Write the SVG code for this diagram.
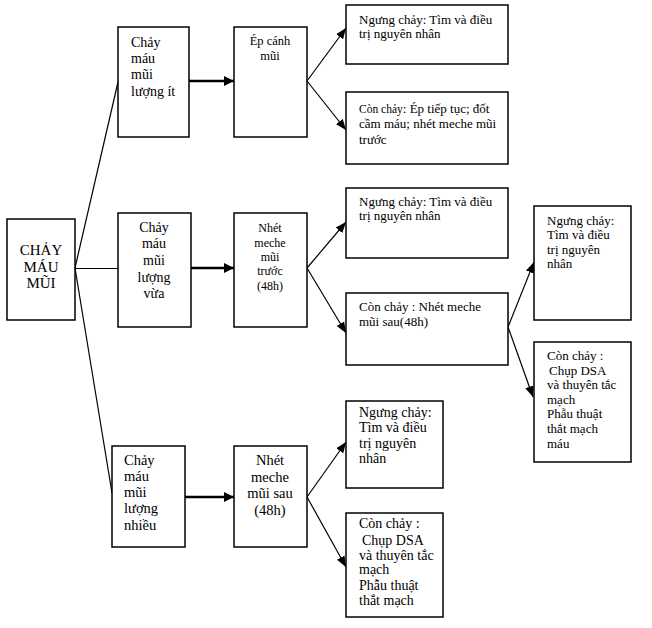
<svg xmlns="http://www.w3.org/2000/svg" width="652" height="628" viewBox="0 0 652 628" font-family="'Liberation Serif', 'DejaVu Serif', serif">
<style>
rect.b{fill:#fff;stroke:#000;stroke-width:1.5}
text{font-family:'Liberation Serif','DejaVu Serif',serif;fill:#000}
.f12{font-size:12px}
.f125{font-size:12.5px}
.f13{font-size:13px}
.f14{font-size:14px}
.f145{font-size:14.5px}
.f15{font-size:15px}
.sm{font-size:11.5px}
.c{text-anchor:middle}
.thick{stroke:#000;stroke-width:2.5;fill:none}
.thin{stroke:#000;stroke-width:1.2;fill:none}
</style>
<defs>
<marker id="ah" viewBox="0 0 10 10" refX="10" refY="5" markerWidth="4" markerHeight="4" orient="auto" markerUnits="strokeWidth"><path d="M0,0 L10,5 L0,10 z" fill="#000"/></marker>
<marker id="ahs" viewBox="0 0 10 10" refX="10" refY="5" markerWidth="9" markerHeight="9" orient="auto" markerUnits="strokeWidth"><path d="M0,1 L10,5 L0,9 z" fill="#000"/></marker>
</defs>
<rect width="652" height="628" fill="#fff"/>
<g id="connectors">
<line class="thin" x1="75" y1="268" x2="118" y2="82"/>
<line stroke="#000" stroke-width="1.2" x1="75" y1="268.5" x2="118" y2="268.5"/>
<line class="thin" x1="75" y1="268" x2="112" y2="493"/>
<line class="thick" x1="189" y1="81" x2="234" y2="81" marker-end="url(#ah)"/>
<line class="thick" x1="191" y1="268" x2="234" y2="268" marker-end="url(#ah)"/>
<line class="thick" x1="185" y1="497" x2="234" y2="497" marker-end="url(#ah)"/>
<line class="thin" x1="307" y1="81" x2="346" y2="28" marker-end="url(#ahs)"/>
<line class="thin" x1="307" y1="81" x2="346" y2="130" marker-end="url(#ahs)"/>
<line class="thin" x1="307" y1="268" x2="346" y2="222" marker-end="url(#ahs)"/>
<line class="thin" x1="307" y1="268" x2="346" y2="333" marker-end="url(#ahs)"/>
<line class="thin" x1="508" y1="327" x2="534" y2="262" marker-end="url(#ahs)"/>
<line class="thin" x1="508" y1="327" x2="533" y2="397" marker-end="url(#ahs)"/>
<line class="thin" x1="307" y1="497" x2="346" y2="442" marker-end="url(#ahs)"/>
<line class="thin" x1="307" y1="497" x2="346" y2="567" marker-end="url(#ahs)"/>
</g>
<g id="root">
<rect class="b" x="7" y="219" width="68" height="101"/>
<text class="f15 c"><tspan x="41" y="255">CHẢY</tspan><tspan x="41" y="272">MÁU</tspan><tspan x="41" y="288">MŨI</tspan></text>
</g>
<g id="n-it">
<rect class="b" x="118" y="27" width="71" height="110"/>
<text class="f14"><tspan x="131" y="47">Chảy</tspan><tspan x="131" y="63">máu</tspan><tspan x="131" y="79">mũi</tspan><tspan x="131" y="96">lượng ít</tspan></text>
</g>
<g id="n-epcanh">
<rect class="b" x="234" y="27" width="73" height="110"/>
<text class="f125 c"><tspan x="270" y="45">Ép cánh</tspan><tspan x="270" y="60">mũi</tspan></text>
</g>
<g id="n-ngung1">
<rect class="b" x="346" y="5" width="162" height="59"/>
<text class="f13"><tspan x="359" y="24">Ngưng chảy: Tìm và điều</tspan><tspan x="359" y="38">trị nguyên nhân</tspan></text>
</g>
<g id="n-con1">
<rect class="b" x="346" y="92" width="162" height="72"/>
<text class="f13"><tspan x="359" y="113"><tspan class="sm">Còn chảy</tspan>: Ép tiếp tục; đốt</tspan><tspan x="359" y="128">cầm máu; nhét meche mũi</tspan><tspan x="359" y="144">trước</tspan></text>
</g>
<g id="n-vua">
<rect class="b" x="118" y="213" width="73" height="114"/>
<text class="f14 c"><tspan x="154" y="232">Chảy</tspan><tspan x="154" y="248">máu</tspan><tspan x="154" y="265">mũi</tspan><tspan x="154" y="282">lượng</tspan><tspan x="154" y="298">vừa</tspan></text>
</g>
<g id="n-truoc">
<rect class="b" x="234" y="213" width="73" height="114"/>
<text class="f12 c"><tspan x="270" y="232">Nhét</tspan><tspan x="270" y="247">meche</tspan><tspan x="270" y="261">mũi</tspan><tspan x="270" y="275">trước</tspan><tspan x="270" y="290">(48h)</tspan></text>
</g>
<g id="n-ngung2">
<rect class="b" x="346" y="188" width="162" height="70"/>
<text class="f13"><tspan x="359" y="206">Ngưng chảy: Tìm và điều</tspan><tspan x="359" y="220">trị nguyên nhân</tspan></text>
</g>
<g id="n-con2">
<rect class="b" x="346" y="293" width="162" height="72"/>
<text class="f13"><tspan x="359" y="311">Còn chảy : Nhét meche</tspan><tspan x="359" y="326">mũi sau(48h)</tspan></text>
</g>
<g id="n-ngung3">
<rect class="b" x="534" y="206" width="97" height="114"/>
<text class="f13"><tspan x="547" y="225">Ngưng chảy:</tspan><tspan x="547" y="239">Tìm và điều</tspan><tspan x="547" y="254">trị nguyên</tspan><tspan x="547" y="268">nhân</tspan></text>
</g>
<g id="n-con3">
<rect class="b" x="534" y="342" width="97" height="120"/>
<text class="f13"><tspan x="547" y="360">Còn chảy :</tspan><tspan x="549" y="375">Chụp DSA</tspan><tspan x="547" y="389">và thuyên tắc</tspan><tspan x="547" y="404">mạch</tspan><tspan x="547" y="418">Phẫu thuật</tspan><tspan x="547" y="433">thắt mạch</tspan><tspan x="547" y="448">máu</tspan></text>
</g>
<g id="n-nhieu">
<rect class="b" x="112" y="446" width="73" height="101"/>
<text class="f145"><tspan x="124" y="465">Chảy</tspan><tspan x="124" y="481">máu</tspan><tspan x="124" y="497">mũi</tspan><tspan x="124" y="513">lượng</tspan><tspan x="124" y="530">nhiều</tspan></text>
</g>
<g id="n-sau">
<rect class="b" x="234" y="446" width="73" height="101"/>
<text class="f145 c"><tspan x="270" y="465">Nhét</tspan><tspan x="270" y="482">meche</tspan><tspan x="270" y="498">mũi sau</tspan><tspan x="270" y="515">(48h)</tspan></text>
</g>
<g id="n-ngung4">
<rect class="b" x="346" y="401" width="97" height="87"/>
<text class="f14"><tspan x="359" y="417">Ngưng chảy:</tspan><tspan x="359" y="432">Tìm và điều</tspan><tspan x="359" y="448">trị nguyên</tspan><tspan x="359" y="463">nhân</tspan></text>
</g>
<g id="n-con4">
<rect class="b" x="346" y="513" width="97" height="104"/>
<text class="f14"><tspan x="359" y="528">Còn chảy :</tspan><tspan x="362" y="545">Chụp DSA</tspan><tspan x="359" y="560">và thuyên tắc</tspan><tspan x="359" y="574">mạch</tspan><tspan x="359" y="590">Phẫu thuật</tspan><tspan x="359" y="605">thắt mạch</tspan></text>
</g>
</svg>
